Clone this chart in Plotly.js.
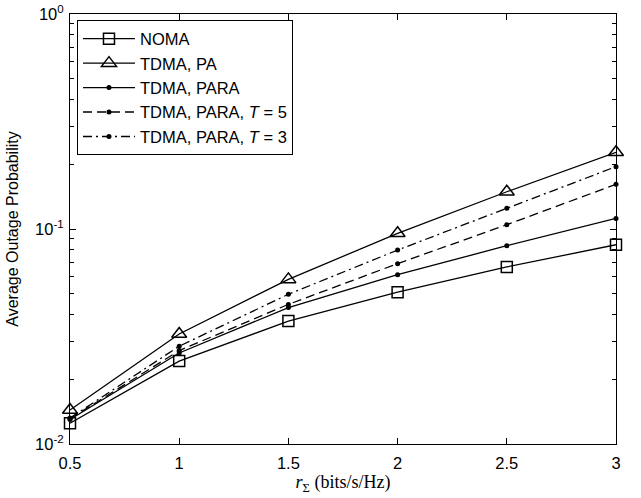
<!DOCTYPE html>
<html>
<head>
<meta charset="utf-8">
<script src="https://cdn.plot.ly/plotly-3.0.1.min.js"></script>
<style>html,body{margin:0;padding:0;background:#fff;}#chart{width:641px;height:498px;}</style>
</head>
<body>
<div id="chart"></div>
<script>
// Data
const rates = [0.5, 1, 1.5, 2, 2.5, 3];
const noma = [0.01248, 0.0243, 0.0373, 0.0508, 0.0666, 0.0845];
const tdmaPA = [0.0144, 0.0325, 0.0583, 0.0955, 0.149, 0.2274];
const tdmaPARA = [0.0130, 0.0265, 0.0431, 0.0613, 0.0836, 0.112];
const tdmaPARA_T5 = [0.0131, 0.0272, 0.0446, 0.069, 0.1047, 0.1614];
const tdmaPARA_T3 = [0.0132, 0.0285, 0.0497, 0.0798, 0.1248, 0.195];
const seriesNames = ['NOMA', 'TDMA, PA', 'TDMA, PARA', 'TDMA, PARA, <i>T</i> = 5', 'TDMA, PARA, <i>T</i> = 3'];
const xTickVals = [0.5, 1, 1.5, 2, 2.5, 3];
const xTickText = ['0.5', '1', '1.5', '2', '2.5', '3'];
const yTickVals = [0.01, 0.1, 1];
const yTickText = ['10<sup>-2</sup>', '10<sup>-1</sup>', '10<sup>0</sup>'];
const yMinorVals = [0.02, 0.03, 0.04, 0.05, 0.06, 0.07, 0.08, 0.09, 0.2, 0.3, 0.4, 0.5, 0.6, 0.7, 0.8, 0.9];

const lineW = 1.3;
function tr(y, name, dash, marker) {
  return {
    x: rates, y: y, name: name, type: 'scatter', mode: 'lines+markers',
    line: {color: '#000', width: lineW, dash: dash},
    marker: marker, cliponaxis: false
  };
}
const dotMarker = {symbol: 'circle', size: 5, color: '#000', line: {width: 0}};
const data = [
  tr(noma, seriesNames[0], 'solid', {symbol: 'square-open', size: 11, color: '#000', line: {width: 1.5, color: '#000'}}),
  tr(tdmaPA, seriesNames[1], 'solid', {symbol: 'triangle-up-open', size: 13, color: '#000', line: {width: 1.5, color: '#000'}}),
  tr(tdmaPARA, seriesNames[2], 'solid', dotMarker),
  tr(tdmaPARA_T5, seriesNames[3], '9px,5px', dotMarker),
  tr(tdmaPARA_T3, seriesNames[4], '9px,4px,2px,4px', dotMarker)
];

const sans = 'Liberation Sans, Arial, sans-serif';
const axisCommon = {
  showline: true, linecolor: '#000', linewidth: 1, mirror: 'ticks',
  ticks: 'inside', ticklen: 6, tickcolor: '#000', tickwidth: 1,
  showgrid: false, zeroline: false,
  tickfont: {family: sans, size: 16.5, color: '#000'}
};

const layout = {
  width: 641, height: 498,
  margin: {l: 70, r: 25, t: 14, b: 54},
  paper_bgcolor: '#fff', plot_bgcolor: '#fff',
  font: {family: sans, size: 16, color: '#000'},
  showlegend: true,
  legend: {
    x: 0.0128, y: 0.985, xanchor: 'left', yanchor: 'top',
    bgcolor: '#fff', bordercolor: '#000', borderwidth: 1,
    font: {family: sans, size: 16.5, color: '#000'},
    itemwidth: 52, tracegroupgap: 0
  },
  xaxis: Object.assign({}, axisCommon, {
    range: [0.5, 3], tickvals: xTickVals, ticktext: xTickText,
    ticklabelstandoff: 4,
    title: {text: '<i>r</i><sub>Σ</sub> (bits/s/Hz)', font: {family: 'Liberation Serif, Times New Roman, serif', size: 18, color: '#000'}, standoff: 2}
  }),
  yaxis: Object.assign({}, axisCommon, {
    type: 'log', range: [-2, 0], tickvals: yTickVals, ticktext: yTickText,
    ticklabelstandoff: 2,
    minor: {tickmode: 'array', tickvals: yMinorVals, ticks: 'inside', ticklen: 4, tickcolor: '#000', tickwidth: 1, showgrid: false},
    title: {text: 'Average Outage Probability', font: {family: sans, size: 16, color: '#000'}, standoff: 12}
  })
};

Plotly.newPlot('chart', data, layout, {staticPlot: true, displayModeBar: false});
</script>
</body>
</html>
